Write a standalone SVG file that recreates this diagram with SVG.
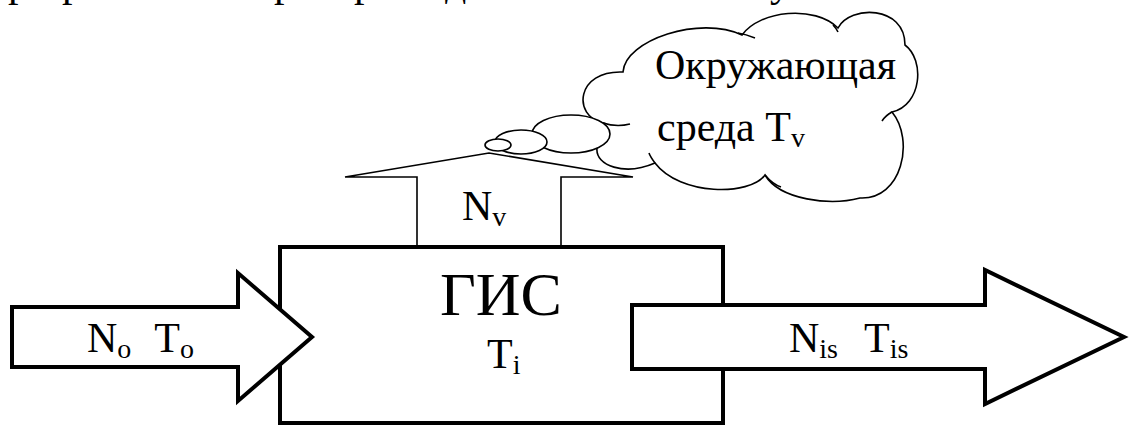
<svg xmlns="http://www.w3.org/2000/svg" width="1130" height="426" viewBox="0 0 1130 426">
<style>
.t{font-family:"Liberation Serif","Times New Roman",serif;fill:#000}
.thick{fill:#fff;stroke:#000;stroke-width:4;stroke-linejoin:miter}
.thin{fill:#fff;stroke:#000;stroke-width:1.6}
.line{fill:none;stroke:#000;stroke-width:1.6}
</style>
<rect width="1130" height="426" fill="#fff"/>
<g id="clipped-line">
<text class="t" font-size="42" y="-4"><tspan x="8">р</tspan><tspan x="62">р</tspan><tspan x="274">р</tspan><tspan x="354">р</tspan><tspan x="445">д</tspan><tspan x="770">у</tspan></text>
</g>
<g id="cloud">
<path class="thin" d="M623,72 C625,40 700,15 742,35 C760,10 815,5 838,28 C850,5 905,5 905,45 C925,60 922,105 892,112 C915,140 902,200 860,198 C830,206 780,200 765,175 C750,196 680,196 655,163 C625,176 595,166 597,148 C585,140 585,130 603,123 C572,116 576,70 623,72 Z"/>
<path class="line" d="M603,123 C612,126 622,126 630,124 M738,33 C744,34 750,36 755,38 M833,25 C835,27 837,30 838,32 M892,112 C888,114 884,118 882,121 M765,175 C770,181 775,185 781,187 M655,163 C652,159 650,156 649,153"/>
<ellipse class="thin" cx="571" cy="134" rx="39" ry="19"/>
<ellipse class="thin" cx="521" cy="142" rx="26" ry="12"/>
<ellipse class="thin" cx="498" cy="145" rx="13" ry="6"/>
<text class="t" font-size="42" x="655" y="79">Окружающая</text>
<text class="t" font-size="42" x="657" y="141">среда T<tspan font-size="28" dy="6">v</tspan></text>
</g>
<g id="connectors">
<path id="out-v" class="thin" d="M417,247 L417,177 L345,177 L489,153 L633,177 L561,177 L561,247"/>
</g>
<g id="gis">
<rect class="thick" x="280" y="247" width="443" height="176"/>
<text class="t" font-size="62" x="501" y="315" text-anchor="middle">ГИС</text>
<text class="t" font-size="42" x="487" y="368">T<tspan font-size="28" dy="6">i</tspan></text>
</g>
<g id="nv-label">
<text class="t" font-size="42" x="462" y="220">N<tspan font-size="28" dy="6">v</tspan></text>
</g>
<g id="input">
<path class="thick" d="M12,307 L238,307 L238,273 L312,337 L238,401 L238,367 L12,367 Z"/>
<text class="t" font-size="42" x="87" y="352">N<tspan font-size="28" dy="6">o</tspan><tspan dy="-6" dx="23">T</tspan><tspan font-size="28" dy="6">o</tspan></text>
</g>
<g id="output">
<path class="thick" d="M632,305 L985,305 L985,270 L1124,337 L985,404 L985,369 L632,369 Z"/>
<text class="t" font-size="42" x="789" y="352">N<tspan font-size="28" dy="6">is</tspan><tspan dy="-6" dx="26">T</tspan><tspan font-size="28" dy="6">is</tspan></text>
</g>
</svg>
